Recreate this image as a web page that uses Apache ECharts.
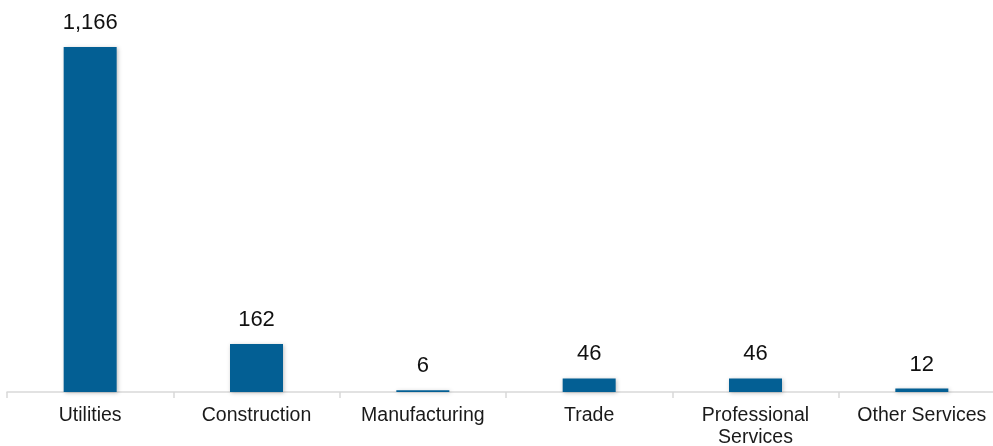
<!DOCTYPE html>
<html><head><meta charset="utf-8">
<script src="https://cdn.jsdelivr.net/npm/echarts@6/dist/echarts.min.js"></script>
<style>html,body{margin:0;padding:0;background:#fff;overflow:hidden}#c{width:993px;height:446px}</style>
</head><body><div id="c"></div>
<script>
const categories = ['Utilities', 'Construction', 'Manufacturing', 'Trade', 'Professional\nServices', 'Other Services'];
const values = [1166, 162, 6, 46, 46, 12];

const chart = echarts.init(document.getElementById('c'), null, {renderer: 'canvas'});
chart.setOption({
  animation: false,
  grid: {left: 7, width: 998, top: 7.4, height: 384.6, containLabel: false, outerBoundsMode: 'none'},
  xAxis: {
    type: 'category',
    data: categories,
    boundaryGap: true,
    axisLine: {show: true, lineStyle: {color: '#d9d9d9', width: 1.5}},
    axisTick: {show: true, length: 6, lineStyle: {color: '#d9d9d9', width: 1.5}},
    axisLabel: {
      color: '#1a1a1a', fontSize: 19.5, fontFamily: 'Liberation Sans, Arial, sans-serif',
      margin: 13, lineHeight: 22, interval: 0
    }
  },
  yAxis: {type: 'value', min: 0, max: 1300, show: false, splitLine: {show: false}},
  series: [{
    type: 'bar',
    data: values,
    barWidth: 53,
    itemStyle: {color: '#035f94', shadowColor: 'rgba(0,0,0,0.25)', shadowBlur: 4, shadowOffsetX: 1, shadowOffsetY: 1},
    label: {
      show: true, position: 'top', distance: 13,
      color: '#111', fontSize: 22, fontFamily: 'Liberation Sans, Arial, sans-serif',
      formatter: p => p.value.toLocaleString('en-US')
    }
  }]
});
</script></body></html>
